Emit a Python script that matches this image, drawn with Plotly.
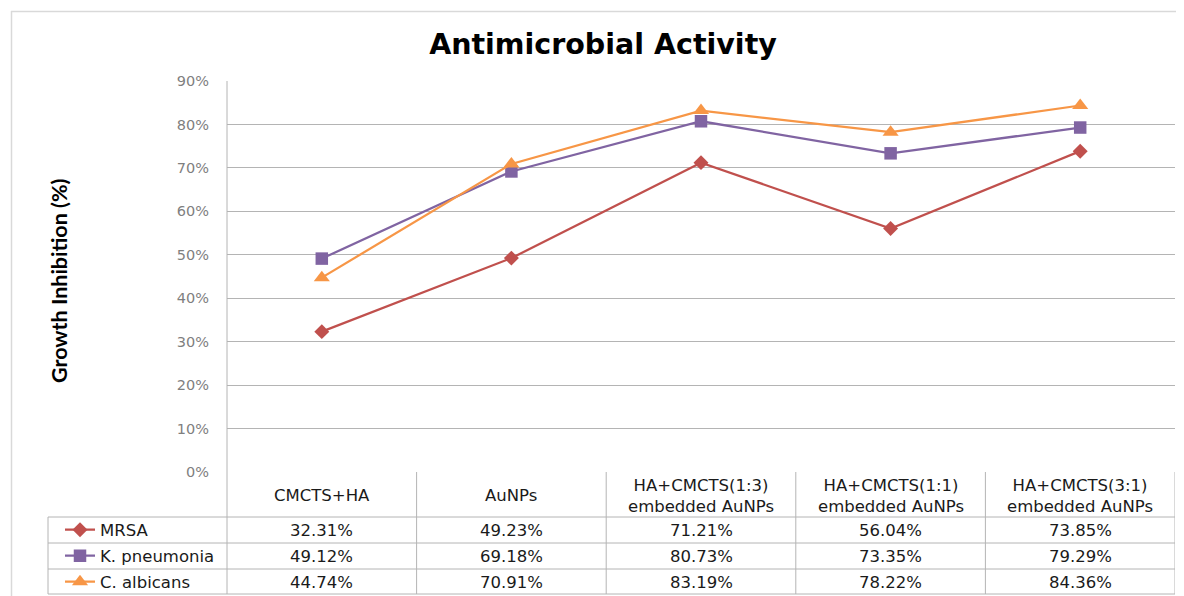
import plotly.graph_objects as go

# ---------------- data ----------------
categories = ["CMCTS+HA", "AuNPs", "HA+CMCTS(1:3)<br>embedded AuNPs",
              "HA+CMCTS(1:1)<br>embedded AuNPs", "HA+CMCTS(3:1)<br>embedded AuNPs"]
series_names = ["MRSA", "K. pneumonia", "C. albicans"]
mrsa = [32.31, 49.23, 71.21, 56.04, 73.85]
k_pneumonia = [49.12, 69.18, 80.73, 73.35, 79.29]
c_albicans = [44.74, 70.91, 83.19, 78.22, 84.36]
y_ticks = [0, 10, 20, 30, 40, 50, 60, 70, 80, 90]
y_tick_labels = [f"{v}%" for v in y_ticks]
title_text = "Antimicrobial Activity"
y_title = "Growth Inhibition (%)"

series_values = [mrsa, k_pneumonia, c_albicans]
colors = ["#C0504D", "#8064A2", "#F79646"]
symbols = ["diamond", "square", "triangle-up"]
msizes = [11.5, 12.5, 14]

# ---------------- layout geometry (page pixels) ----------------
OFF = 8                      # page body margin
W, H = 1184 - OFF, 596 - OFF
L, R, T, B = 227, 1175, 81, 472   # plot area in page pixels
PW, PH = R - L, B - T


def px(xp):
    return (xp - L) / PW


def py(yp):
    return (B - yp) / PH


FONT = "DejaVu Sans"
GRID = "#B4B4B4"
TXT = "#1a1a1a"
header_bottom = 517
row_h = 26
row_edges = [header_bottom + i * row_h for i in range(4)]
row_edges[-1] = 594
legend_left = 48

fig = go.Figure()
idx = list(range(len(categories)))
legend_ids = ["legend", "legend2", "legend3"]
for k, (name, vals) in enumerate(zip(series_names, series_values)):
    fig.add_trace(go.Scatter(
        x=idx, y=vals, name=name, mode="lines+markers",
        line=dict(color=colors[k], width=2.25),
        marker=dict(symbol=symbols[k], size=msizes[k], color=colors[k]),
        legend=legend_ids[k], cliponaxis=False,
    ))

shapes = []
# outer chart border: top and left edges (the others lie outside the picture)
shapes.append(dict(type="line", xref="paper", yref="paper",
                   x0=px(11), x1=px(1184), y0=py(11.5), y1=py(11.5),
                   line=dict(color="#D9D9D9", width=1.5)))
shapes.append(dict(type="line", xref="paper", yref="paper",
                   x0=px(11.5), x1=px(11.5), y0=py(11), y1=py(596),
                   line=dict(color="#D9D9D9", width=1.5)))
# left axis line through table
shapes.append(dict(type="line", xref="paper", yref="paper",
                   x0=0, x1=0, y0=1, y1=py(row_edges[-1]),
                   line=dict(color=GRID, width=1)))
# vertical column lines in table
for i in range(1, len(categories) + 1):
    shapes.append(dict(type="line", xref="x", yref="paper",
                       x0=i - 0.5, x1=i - 0.5, y0=0, y1=py(row_edges[-1]),
                       line=dict(color=GRID, width=1)))
# legend column left line
shapes.append(dict(type="line", xref="paper", yref="paper",
                   x0=px(legend_left), x1=px(legend_left),
                   y0=py(row_edges[0]), y1=py(row_edges[-1]),
                   line=dict(color=GRID, width=1)))
# horizontal row lines
for e in row_edges:
    shapes.append(dict(type="line", xref="paper", yref="paper",
                       x0=px(legend_left), x1=1, y0=py(e), y1=py(e),
                       line=dict(color=GRID, width=1)))

annotations = []
# category headers
for i, c in enumerate(categories):
    annotations.append(dict(x=i, y=py((B + header_bottom) / 2 + 1), xref="x", yref="paper",
                            text=c, showarrow=False, xanchor="center", yanchor="middle",
                            font=dict(family=FONT, size=16.5, color=TXT)))
# data values
for r, vals in enumerate(series_values):
    yc = py(header_bottom + r * row_h + row_h / 2)
    for i, v in enumerate(vals):
        annotations.append(dict(x=i, y=yc, xref="x", yref="paper",
                                text=f"{v:.2f}%", showarrow=False,
                                xanchor="center", yanchor="middle",
                                font=dict(family=FONT, size=16.5, color=TXT)))
# y axis title
annotations.append(dict(x=px(59), y=py(281), xref="paper", yref="paper",
                        text=f"<b>{y_title}</b>", textangle=-90, showarrow=False,
                        xanchor="center", yanchor="middle",
                        font=dict(family="Lato", size=21.5, color="#000000")))

legend_cfg = {}
for r, lid in enumerate(legend_ids):
    legend_cfg[lid] = dict(
        x=px(60), y=py(header_bottom + r * row_h + row_h / 2), xref="paper", yref="paper",
        xanchor="left", yanchor="middle", bgcolor="rgba(0,0,0,0)",
        borderwidth=0, font=dict(family=FONT, size=16.5, color=TXT),
        itemwidth=30,
    )

fig.update_layout(
    width=W, height=H,
    margin=dict(l=L - OFF, r=(W + OFF) - R, t=T - OFF, b=(H + OFF) - B, pad=0,
                autoexpand=False),
    paper_bgcolor="white", plot_bgcolor="white",
    title=dict(text=f"<b>{title_text}</b>", x=(603 - OFF) / W, xref="container",
               xanchor="center", y=1 - (44 - OFF) / H, yref="container", yanchor="middle",
               font=dict(family="DejaVu Sans", size=28.5, color="#000000")),
    xaxis=dict(range=[-0.5, len(categories) - 0.5], showticklabels=False, showgrid=False,
               zeroline=False, showline=False, ticks=""),
    yaxis=dict(range=[0, 90], tickvals=y_ticks, ticktext=y_tick_labels, showgrid=True,
               gridcolor=GRID, gridwidth=1, zeroline=False, showline=False,
               ticks="", ticklabelstandoff=17,
               tickfont=dict(family=FONT, size=14.5, color="#7F7F7F")),
    shapes=shapes, annotations=annotations,
    showlegend=True,
    **legend_cfg,
)

fig.write_html("out.html")
